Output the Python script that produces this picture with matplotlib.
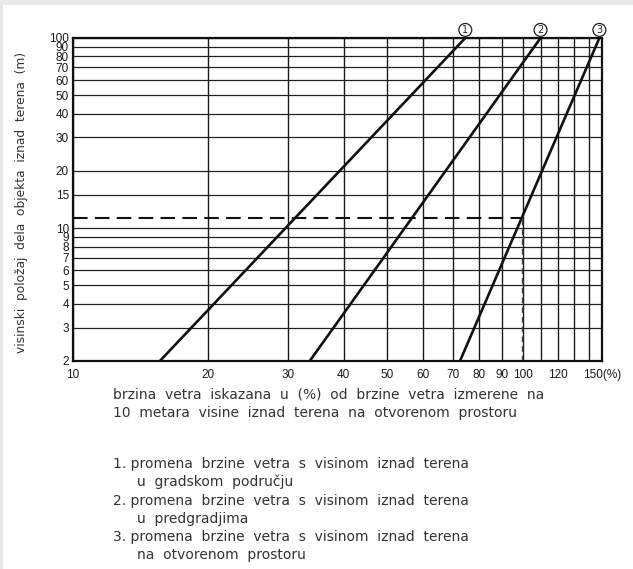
import matplotlib
matplotlib.use('Agg')
import matplotlib.pyplot as plt
from matplotlib.patches import Rectangle
from matplotlib.transforms import blended_transform_factory
import numpy as np

# wind speed (% of speed at 10 m, open terrain) vs. height above ground (m)
heights = [2, 100]
urban = [15.6, 74.5]        # 1. gradsko podrucje
suburban = [33.6, 109.5]    # 2. predgradja
open_land = [72.5, 148]     # 3. otvoreni prostor
curve_ids = ['1', '2', '3']

ref_height = 11.3

x_grid = list(range(10, 160, 10))
x_ticks = [10, 20, 30, 40, 50, 60, 70, 80, 90, 100, 120, 150]
x_labels = ['10', '20', '30', '40', '50', '60', '70', '80', '90', '100', '120', '150(%)']
y_ticks = [2, 3, 4, 5, 6, 7, 8, 9, 10, 15, 20, 30, 40, 50, 60, 70, 80, 90, 100]

xlabel_lines = ['brzina vetra iskazana u (%) od brzine vetra izmerene na',
                '10 metara visine iznad terena na otvorenom prostoru']
notes = [('1.', 'promena brzine vetra s visinom iznad terena', 'u gradskom području'),
         ('2.', 'promena brzine vetra s visinom iznad terena', 'u predgradjima'),
         ('3.', 'promena brzine vetra s visinom iznad terena', 'na otvorenom prostoru')]
ylabel = 'visinski položaj dela objekta iznad terena (m)'


def spaced(s):
    # wide word spacing as in the printed legend
    return '  '.join(s.split())


W, H = 633, 569
fig = plt.figure(figsize=(W / 100, H / 100), dpi=100)
fig.patch.set_facecolor('white')
# thin grey strips along the top and left edge
fig.add_artist(Rectangle((0, 1 - 4.5 / H), 1, 4.5 / H, transform=fig.transFigure,
                         facecolor='#e8e8e8', edgecolor='none'))
fig.add_artist(Rectangle((0, 0), 3 / W, 1, transform=fig.transFigure,
                         facecolor='#e8e8e8', edgecolor='none'))

ax = fig.add_axes([73 / W, 1 - 361 / H, (602 - 73) / W, (361 - 38) / H])
ax.set_xscale('log')
ax.set_yscale('log')
ax.set_xlim(10, 150)
ax.set_ylim(2, 100)

for xv in x_grid:
    ax.axvline(xv, color='#1a1a1a', lw=1.0, zorder=1)
for yv in y_ticks:
    ax.axhline(yv, color='#222222', lw=0.9, zorder=1)

for s in ax.spines.values():
    s.set_linewidth(1.6)
    s.set_color('#111111')

ax.xaxis.set_minor_locator(plt.NullLocator())
ax.yaxis.set_minor_locator(plt.NullLocator())
ax.set_xticks(x_ticks)
ax.set_xticklabels(x_labels)
ax.set_yticks(y_ticks)
ax.set_yticklabels([str(v) for v in y_ticks])
for lab in ax.get_xticklabels() + ax.get_yticklabels():
    lab.set_fontfamily(['Liberation Sans', 'DejaVu Sans'])
    lab.set_fontsize(8.5)
    lab.set_color('#1a1a1a')
ax.tick_params(length=0, pad=3)
ax.tick_params(axis='x', pad=6)

for xs in (urban, suburban, open_land):
    ax.plot(xs, heights, color='#111111', lw=1.9, zorder=3, solid_capstyle='butt')

# reference height marked on curve 3
lx, ly = np.log(open_land), np.log(heights)
x_ref = float(np.exp(np.interp(np.log(ref_height), ly, lx)))
ax.plot([10, x_ref], [ref_height, ref_height], color='#111111', lw=1.5,
        dashes=(7, 3.5), zorder=2)
ax.plot([x_ref, x_ref], [2, ref_height], color='#444444', lw=1.0,
        dashes=(4, 3), zorder=2)

# circled curve numbers above the upper ends
tr = blended_transform_factory(ax.transData, ax.transAxes)
for xs, cid in zip((urban, suburban, open_land), curve_ids):
    ax.text(xs[1], 1.025, cid, transform=tr, ha='center', va='center',
            fontsize=7, color='#222222', clip_on=False,
            bbox=dict(boxstyle='circle,pad=0.15', fc='white', ec='#222222', lw=0.9))

body = dict(fontsize=10, color='#333333', family='DejaVu Sans')
fig.text(113 / W, 1 - 395 / H, spaced(xlabel_lines[0]), va='center', ha='left', **body)
fig.text(113 / W, 1 - 413 / H, spaced(xlabel_lines[1]), va='center', ha='left', **body)

y0 = 464
for i, (num, line1, line2) in enumerate(notes):
    yy = y0 + i * 36.5
    fig.text(113 / W, 1 - yy / H, num + ' ' + spaced(line1), va='center', ha='left', **body)
    fig.text(137 / W, 1 - (yy + 18) / H, spaced(line2), va='center', ha='left', **body)

fig.text(22 / W, 1 - 202 / H, spaced(ylabel), rotation=90, va='center', ha='center',
         fontsize=8.8, color='#333333', family='DejaVu Sans')

fig.savefig('out.png', dpi=100)
